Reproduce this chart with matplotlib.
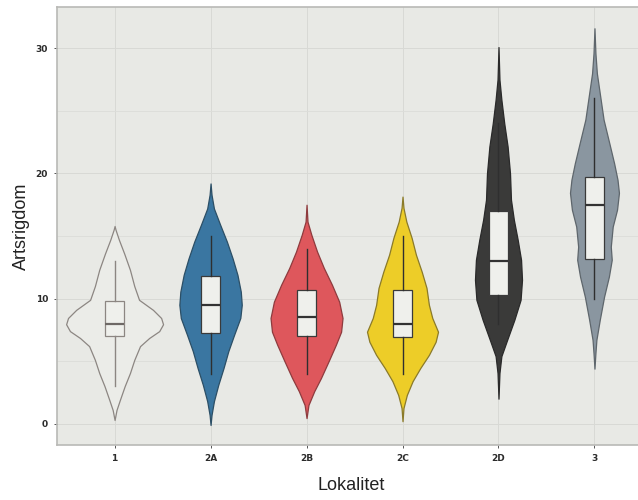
import matplotlib
matplotlib.use("Agg")
import matplotlib.pyplot as plt
import numpy as np

# --- data ---------------------------------------------------------------
sites = ["1", "2A", "2B", "2C", "2D", "3"]

# violin outlines: species count (y) and half width of the violin at that level
v1_y = [0.3, 1.1, 1.9, 3.0, 4.05, 5.1, 6.2, 6.85, 7.4, 7.95, 8.45, 9.1, 9.9, 11.0, 12.3, 13.6, 14.7, 15.5, 15.8]
v1_w = [0.0, 0.02, 0.055, 0.105, 0.16, 0.205, 0.265, 0.36, 0.465, 0.505, 0.485, 0.40, 0.255, 0.205, 0.16, 0.10, 0.045, 0.01, 0.0]

v2a_y = [-0.1, 0.7, 1.8, 3.1, 4.45, 5.8, 7.1, 8.45, 9.5, 10.55, 11.9, 13.2, 14.55, 15.9, 17.2, 18.3, 19.2]
v2a_w = [0.0, 0.01, 0.035, 0.08, 0.135, 0.185, 0.245, 0.31, 0.325, 0.315, 0.28, 0.23, 0.17, 0.10, 0.035, 0.01, 0.0]

v2b_y = [0.45, 1.5, 2.6, 3.65, 5.0, 6.3, 7.35, 8.45, 9.75, 11.1, 12.45, 13.75, 15.1, 16.15, 17.5]
v2b_w = [0.0, 0.02, 0.08, 0.15, 0.23, 0.305, 0.36, 0.375, 0.34, 0.265, 0.18, 0.11, 0.05, 0.01, 0.0]

v2c_y = [0.2, 1.25, 2.3, 3.4, 4.45, 5.5, 6.55, 7.35, 8.45, 9.5, 10.85, 12.15, 13.5, 14.85, 16.15, 17.25, 18.15]
v2c_w = [0.0, 0.01, 0.045, 0.105, 0.185, 0.275, 0.345, 0.37, 0.31, 0.275, 0.25, 0.20, 0.14, 0.095, 0.04, 0.01, 0.0]

v2d_y = [2.0, 4.05, 5.4, 6.7, 8.3, 9.9, 11.5, 13.1, 14.7, 16.3, 17.9, 20.0, 22.15, 24.0, 25.9, 27.5, 30.1]
v2d_w = [0.0, 0.01, 0.03, 0.09, 0.165, 0.23, 0.245, 0.235, 0.20, 0.16, 0.13, 0.12, 0.095, 0.06, 0.03, 0.01, 0.0]

v3_y = [4.4, 5.65, 6.7, 8.3, 10.15, 11.75, 13.1, 14.15, 15.75, 17.1, 18.45, 19.5, 20.8, 22.4, 24.3, 26.15, 28.0, 29.6, 31.6]
v3_w = [0.0, 0.01, 0.02, 0.055, 0.10, 0.15, 0.18, 0.17, 0.19, 0.235, 0.255, 0.24, 0.205, 0.155, 0.095, 0.06, 0.025, 0.01, 0.0]

violin_y = [v1_y, v2a_y, v2b_y, v2c_y, v2d_y, v3_y]
violin_w = [v1_w, v2a_w, v2b_w, v2c_w, v2d_w, v3_w]

# boxplot statistics
q1 = [7.0, 7.25, 7.0, 6.95, 10.25, 13.2]
med = [8.0, 9.5, 8.5, 8.0, 13.0, 17.5]
q3 = [9.8, 11.8, 10.7, 10.7, 17.0, 19.75]
whislo = [3.0, 4.0, 4.0, 4.0, 8.0, 10.0]
whishi = [13.0, 15.0, 14.0, 15.0, 24.0, 26.0]

fills = ["#EBECE8", "#3A76A1", "#DE575C", "#EDCD28", "#3A3A39", "#8A96A0"]
edges = ["#8C8682", "#2C4F66", "#8E3B3E", "#8A7A2A", "#2A2A2A", "#5E666C"]

bg = "#E8E9E5"
box_face = "#EFF0EC"

# --- figure -------------------------------------------------------------
fig = plt.figure(figsize=(6.38, 5.0), dpi=100)
ax = fig.add_axes([57 / 638, 55 / 500, 1 - 57 / 638 + 0.01, 438 / 500])
ax.set_facecolor(bg)

pos = np.arange(1, len(sites) + 1)

vpstats = []
for yy, ww, m in zip(violin_y, violin_w, med):
    vpstats.append({"coords": np.array(yy), "vals": np.array(ww),
                    "mean": m, "median": m, "min": yy[0], "max": yy[-1],
                    "quantiles": np.array([])})

widths = [2 * max(w) for w in violin_w]
parts = ax.violin(vpstats, positions=pos, widths=widths,
                  showmeans=False, showextrema=False, showmedians=False)
for body, fc, ec in zip(parts["bodies"], fills, edges):
    body.set_facecolor(fc)
    body.set_edgecolor(ec)
    body.set_alpha(1)
    body.set_linewidth(0.9)
    body.set_zorder(2)

box_stats = []
for i in range(len(sites)):
    box_stats.append({"med": med[i], "q1": q1[i], "q3": q3[i],
                      "whislo": whislo[i], "whishi": whishi[i], "fliers": []})

bp = ax.bxp(box_stats, positions=pos, widths=0.2, patch_artist=True,
            showcaps=False, showfliers=False,
            boxprops=dict(facecolor=box_face, edgecolor="#3A3A3A", linewidth=0.9),
            medianprops=dict(color="#333333", linewidth=1.6),
            whiskerprops=dict(color="#2F2F2F", linewidth=1.0))
for art in bp["boxes"] + bp["medians"] + bp["whiskers"]:
    art.set_zorder(3)

# first site drawn in plain grey
bp["boxes"][0].set_edgecolor("#8C8682")
bp["medians"][0].set_color("#6E6966")
for w in bp["whiskers"][:2]:
    w.set_color("#8C8682")

ax.set_xlim(0.4, 6.52)
ax.set_ylim(-1.7, 33.3)
ax.set_yticks([0, 10, 20, 30])
ax.set_yticks([5, 15, 25], minor=True)
ax.set_xticks(pos)
ax.set_xticklabels(sites)

ax.grid(True, which="major", color="#D8D9D5", linewidth=0.7, zorder=0)
ax.grid(True, which="minor", axis="y", color="#DCDDD9", linewidth=0.6, zorder=0)
ax.set_axisbelow(True)

ax.tick_params(axis="both", which="major", length=2.5, width=0.7, color="#555555",
               labelsize=6.5, labelcolor="#2B2B2B", pad=4)
ax.tick_params(axis="y", which="minor", length=0)
for lab in ax.get_xticklabels() + ax.get_yticklabels():
    lab.set_fontweight("bold")

for s in ["left", "bottom", "top"]:
    ax.spines[s].set_color("#B9B9B6")
    ax.spines[s].set_linewidth(1.2)
ax.spines["right"].set_visible(False)

ax.set_ylabel("Artsrigdom", fontsize=13, family="Liberation Sans", labelpad=4, color="#222222")
ax.set_xlabel("Lokalitet", fontsize=13, family="Liberation Sans", labelpad=10, color="#222222")

fig.savefig("out.png", dpi=100)
